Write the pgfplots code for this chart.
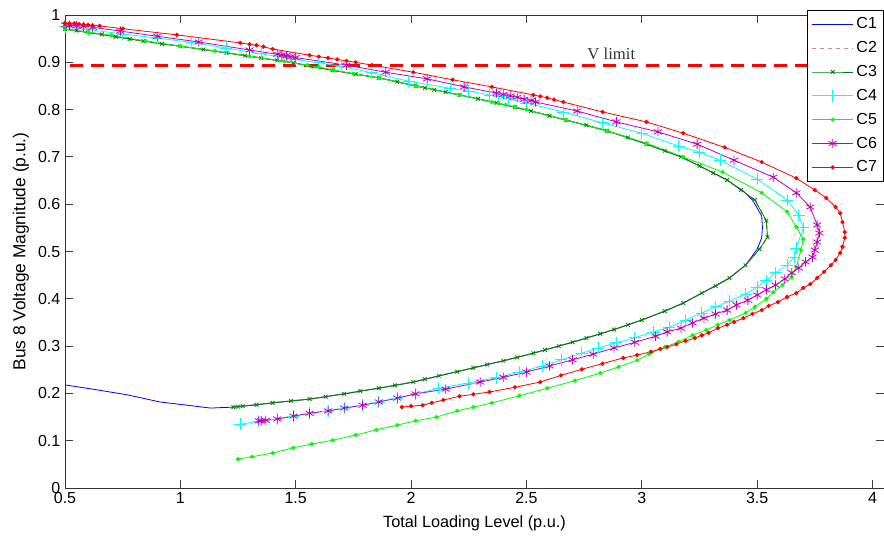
\documentclass[border=0pt]{standalone}
\usepackage{pgfplots}
\pgfplotsset{compat=1.18}
\usepackage{pgfplotstable}
\usepackage{fontspec}
\setmainfont{Liberation Sans}
\newfontfamily\seriffont{Liberation Serif}
\definecolor{cbrown}{RGB}{200,140,115}
\definecolor{cdkgreen}{RGB}{0,128,0}
\definecolor{cmag}{RGB}{191,0,191}
\definecolor{ccyan}{RGB}{0,255,255}
\definecolor{cgreen}{RGB}{0,255,0}
\definecolor{cblue}{RGB}{0,0,255}
\definecolor{cred}{RGB}{255,0,0}

\pgfplotstableread{
x y
0.50 0.970
0.60 0.963
0.70 0.956
0.84 0.945
1.00 0.934
1.20 0.920
1.35 0.909
1.49 0.899
1.66 0.883
1.86 0.867
2.02 0.850
2.21 0.831
2.37 0.814
2.52 0.797
2.67 0.778
2.85 0.755
3.02 0.727
3.17 0.700
3.25 0.681
3.37 0.651
3.44 0.628
3.48 0.609
3.52 0.575
3.523 0.550
3.52 0.529
3.50 0.505
3.45 0.471
3.38 0.444
3.26 0.412
3.18 0.391
3.10 0.374
3.00 0.355
2.88 0.335
2.76 0.317
2.64 0.300
2.53 0.285
2.40 0.269
2.27 0.254
2.12 0.237
2.01 0.224
1.86 0.211
1.71 0.199
1.56 0.188
1.40 0.180
1.23 0.171
1.13 0.169
1.03 0.175
0.91 0.182
0.77 0.197
0.62 0.209
0.50 0.218
}\dataA

\pgfplotstableread{
x y
0.50 0.970
0.55 0.967
0.60 0.963
0.66 0.959
0.72 0.954
0.78 0.949
0.84 0.945
0.92 0.939
1.00 0.934
1.10 0.927
1.20 0.920
1.28 0.914
1.35 0.909
1.42 0.904
1.49 0.899
1.57 0.891
1.66 0.883
1.76 0.875
1.86 0.867
1.94 0.859
2.02 0.850
2.06 0.846
2.10 0.842
2.15 0.837
2.21 0.831
2.29 0.823
2.37 0.814
2.45 0.805
2.52 0.797
2.60 0.787
2.67 0.778
2.76 0.767
2.85 0.755
2.94 0.741
3.02 0.727
3.10 0.713
3.17 0.700
3.25 0.681
3.31 0.666
3.37 0.651
3.43 0.630
3.49 0.609
3.54 0.565
3.545 0.530
3.51 0.505
3.45 0.471
3.38 0.444
3.32 0.427
3.26 0.412
3.18 0.391
3.10 0.374
3.00 0.355
2.94 0.345
2.88 0.335
2.82 0.326
2.76 0.317
2.70 0.308
2.64 0.300
2.58 0.292
2.53 0.285
2.46 0.276
2.40 0.269
2.33 0.261
2.27 0.254
2.20 0.246
2.12 0.237
2.06 0.230
2.01 0.224
1.93 0.217
1.86 0.211
1.78 0.205
1.71 0.199
1.63 0.193
1.56 0.188
1.48 0.184
1.40 0.180
1.33 0.176
1.27 0.173
1.25 0.172
1.23 0.171
}\dataC

\pgfplotstableread{
x y
0.50 0.975
0.60 0.969
0.75 0.960
0.90 0.951
1.05 0.942
1.20 0.930
1.35 0.918
1.50 0.906
1.60 0.899
1.70 0.891
1.83 0.878
1.99 0.860
2.17 0.845
2.25 0.839
2.34 0.831
2.38 0.827
2.42 0.823
2.50 0.814
2.66 0.795
2.83 0.772
3.00 0.750
3.16 0.723
3.25 0.710
3.34 0.693
3.50 0.653
3.63 0.609
3.68 0.577
3.70 0.550
3.67 0.507
3.66 0.488
3.63 0.471
3.58 0.455
3.54 0.438
3.50 0.425
3.45 0.410
3.38 0.395
3.32 0.383
3.26 0.370
3.19 0.355
3.12 0.340
3.05 0.330
2.97 0.318
2.89 0.307
2.81 0.296
2.74 0.285
2.65 0.271
2.57 0.258
2.47 0.245
2.37 0.233
2.25 0.222
2.12 0.211
2.02 0.199
1.94 0.190
1.86 0.182
1.79 0.175
1.71 0.169
1.64 0.163
1.56 0.158
1.49 0.152
1.42 0.146
1.34 0.141
1.26 0.135
}\dataD

\pgfplotstableread{
x y
0.50 0.970
0.60 0.964
0.70 0.957
0.85 0.945
1.00 0.934
1.15 0.924
1.30 0.913
1.45 0.902
1.55 0.894
1.60 0.890
1.66 0.884
1.75 0.876
1.86 0.867
2.02 0.850
2.21 0.831
2.35 0.816
2.38 0.813
2.41 0.810
2.45 0.806
2.50 0.800
2.67 0.778
2.85 0.755
3.02 0.729
3.18 0.700
3.35 0.668
3.52 0.624
3.63 0.584
3.67 0.552
3.70 0.526
3.69 0.503
3.67 0.467
3.65 0.446
3.61 0.429
3.57 0.414
3.54 0.400
3.49 0.383
3.45 0.370
3.38 0.355
3.33 0.345
3.28 0.334
3.22 0.323
3.16 0.309
3.10 0.298
3.03 0.283
2.98 0.270
2.90 0.256
2.82 0.243
2.71 0.227
2.59 0.211
2.47 0.195
2.35 0.180
2.27 0.171
2.20 0.163
2.11 0.150
2.02 0.142
1.94 0.133
1.85 0.123
1.76 0.112
1.66 0.101
1.57 0.093
1.49 0.085
1.40 0.074
1.31 0.066
1.25 0.061
}\dataE

\pgfplotstableread{
x y
0.50 0.979
0.52 0.978
0.55 0.977
0.58 0.976
0.62 0.974
0.74 0.966
0.90 0.955
1.08 0.943
1.30 0.926
1.42 0.917
1.44 0.915
1.46 0.914
1.48 0.912
1.50 0.910
1.72 0.894
1.89 0.879
2.07 0.865
2.23 0.848
2.37 0.835
2.40 0.832
2.43 0.829
2.46 0.826
2.49 0.822
2.52 0.819
2.54 0.816
2.72 0.797
2.89 0.774
3.07 0.753
3.24 0.727
3.40 0.693
3.57 0.657
3.67 0.624
3.73 0.594
3.76 0.556
3.77 0.539
3.76 0.520
3.75 0.503
3.74 0.488
3.71 0.478
3.68 0.465
3.65 0.455
3.62 0.442
3.58 0.429
3.54 0.419
3.50 0.408
3.46 0.397
3.41 0.387
3.37 0.376
3.32 0.368
3.27 0.359
3.22 0.349
3.17 0.338
3.11 0.330
3.06 0.321
2.97 0.308
2.88 0.296
2.79 0.283
2.70 0.271
2.60 0.258
2.50 0.245
2.40 0.234
2.30 0.224
2.15 0.209
2.02 0.199
1.94 0.190
1.86 0.182
1.79 0.175
1.71 0.169
1.64 0.163
1.56 0.158
1.49 0.152
1.42 0.146
1.37 0.143
1.35 0.142
1.34 0.142
}\dataF

\pgfplotstableread{
x y
0.50 0.983
0.52 0.982
0.54 0.982
0.56 0.981
0.58 0.980
0.60 0.979
0.62 0.978
0.65 0.977
0.75 0.971
0.985 0.958
1.26 0.941
1.30 0.938
1.33 0.936
1.36 0.933
1.40 0.928
1.56 0.915
1.60 0.912
1.64 0.909
1.68 0.906
1.72 0.903
1.76 0.900
1.83 0.894
2.01 0.879
2.18 0.863
2.35 0.848
2.53 0.831
2.56 0.828
2.59 0.825
2.62 0.821
2.66 0.816
2.83 0.795
3.02 0.774
3.18 0.750
3.36 0.720
3.52 0.689
3.67 0.655
3.75 0.630
3.80 0.613
3.84 0.594
3.86 0.581
3.87 0.562
3.88 0.541
3.88 0.529
3.87 0.510
3.86 0.497
3.84 0.482
3.82 0.471
3.79 0.457
3.76 0.444
3.73 0.431
3.70 0.423
3.67 0.412
3.63 0.404
3.59 0.393
3.55 0.385
3.52 0.376
3.48 0.368
3.44 0.359
3.40 0.351
3.37 0.345
3.33 0.338
3.29 0.328
3.26 0.323
3.23 0.317
3.19 0.311
3.15 0.304
3.11 0.298
3.08 0.294
3.04 0.288
2.98 0.281
2.92 0.275
2.83 0.263
2.74 0.251
2.65 0.238
2.56 0.224
2.45 0.213
2.34 0.203
2.27 0.198
2.21 0.194
2.14 0.186
2.09 0.180
2.05 0.175
2.00 0.173
1.96 0.171
}\dataG

\begin{document}
\begin{tikzpicture}
\begin{axis}[
  scale only axis,
  width=614.25pt, height=354.75pt,
  xmin=0.5, xmax=4.05, ymin=0, ymax=1,
  xtick={0.5,1,1.5,2,2.5,3,3.5,4},
  xticklabels={0.5,1,1.5,2,2.5,3,3.5,4},
  ytick={0,0.1,0.2,0.3,0.4,0.5,0.6,0.7,0.8,0.9,1},
  yticklabels={0,0.1,0.2,0.3,0.4,0.5,0.6,0.7,0.8,0.9,1},
  tick align=inside,
  major tick length=6pt,
  tick style={black!75, line width=0.6pt},
  axis line style={black!80, line width=0.6pt},
  /pgf/number format/assume math mode=true,
  tick label style={font=\fontsize{12}{13}\selectfont},
  xlabel style={font=\fontsize{12.2}{13}\selectfont, yshift=-2pt},
  ylabel style={font=\fontsize{13}{14}\selectfont},
  xlabel={Total Loading Level (p.u.)},
  ylabel={Bus 8 Voltage Magnitude (p.u.)},
  legend style={at={(1,1)}, anchor=north east, yshift=3.75pt,
    draw=black, line width=0.6pt, fill=white,
    font=\fontsize{12}{13}\selectfont,
    row sep=4pt, inner xsep=3pt, inner ysep=3.5pt},
  legend cell align=left,
  legend image code/.code={\draw[mark repeat=2,mark phase=2,#1] plot coordinates {(0cm,0cm) (0.54cm,0cm) (1.08cm,0cm)};},
  clip=false,
]
\addplot[cred, draw=cred, line width=2.2pt, dash pattern=on 10pt off 6pt, forget plot] coordinates {(0.52,0.894) (4.05,0.894)};
\addplot[cblue, draw=cblue, line width=0.6pt, no markers] table {\dataA};
\addlegendentry{C1}
\addplot[cbrown, draw=cbrown, line width=0.9pt, dashed, no markers] table {\dataC};
\addlegendentry{C2}
\addplot[cdkgreen, draw=cdkgreen, line width=0.6pt, mark=x, mark size=2pt] table {\dataC};
\addlegendentry{C3}
\addplot[ccyan, draw=ccyan, line width=0.6pt, mark=+, mark size=4.5pt] table {\dataD};
\addlegendentry{C4}
\addplot[cgreen, draw=cgreen, line width=0.6pt, mark=*, mark size=1.3pt, mark options={fill=cgreen, draw=cgreen}] table {\dataE};
\addlegendentry{C5}
\addplot[cmag, draw=cmag, line width=0.6pt, mark=asterisk, mark size=3.5pt] table {\dataF};
\addlegendentry{C6}
\addplot[cred, draw=cred, line width=0.6pt, mark=*, mark size=1.3pt, mark options={fill=cred, draw=cred}] table {\dataG};
\addlegendentry{C7}
\node[font=\seriffont\fontsize{12.5}{13}\selectfont, text=black!80] at (axis cs:2.868,0.918) {V limit};
\end{axis}
\pgfresetboundingbox
\path ([shift={(-48.75pt,-38.25pt)}]current axis.south west) rectangle ([shift={(0pt,11.25pt)}]current axis.north east);
\end{tikzpicture}
\end{document}
